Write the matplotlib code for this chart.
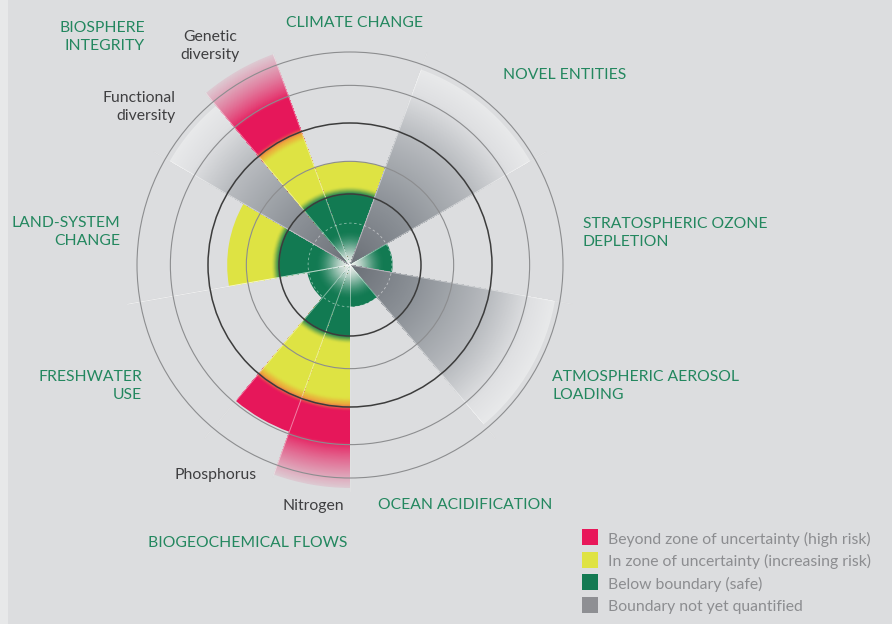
import numpy as np
import matplotlib.pyplot as plt
from matplotlib.patches import Wedge, Circle, Rectangle
from matplotlib.collections import PatchCollection
from matplotlib.colors import to_rgb

plt.rcParams['font.family'] = ['Lato', 'DejaVu Sans']

# sectors: angles in degrees (counterclockwise from east), value in boundary units (boundary = 1)
sector_names = ['Climate change', 'Novel entities', 'Stratospheric ozone depletion',
                'Atmospheric aerosol loading', 'Ocean acidification', 'Nitrogen',
                'Phosphorus', 'Freshwater use', 'Land-system change',
                'Functional diversity', 'Genetic diversity']
sector_start = [70, 30, -10, -50, -90, -110, -130, -170, 150, 130, 110]
sector_end = [110, 70, 30, -10, -50, -90, -110, -130, 190, 150, 130]
sector_value = [1.46, 2.93, 0.60, 2.93, 0.59, 3.14, 2.50, 0.61, 1.73, 2.93, 3.16]
sector_quantified = [True, False, True, False, True, True, True, True, True, False, True]
sector_fades = [False, False, False, False, False, True, False, False, False, False, True]

# reference rings (boundary units)
ring_radius = [1.0, 1.46, 2.0, 2.53, 3.0]
ring_colour = ['#3c3c3c', '#8c8d8f', '#3c3c3c', '#8c8d8f', '#8c8d8f']
ring_width = [1.1, 0.8, 1.1, 0.8, 0.8]
inner_ring = 0.59

legend_labels = ['Beyond zone of uncertainty (high risk)',
                 'In zone of uncertainty (increasing risk)',
                 'Below boundary (safe)',
                 'Boundary not yet quantified']
legend_colours = ['#e8175a', '#dfe343', '#137a52', '#8e8f93']

BG = '#dcdddf'
GREEN = to_rgb('#127a52')
YELLOW = to_rgb('#dee343')
ORANGE = to_rgb('#f09a38')
RED = to_rgb('#e6175a')
CENTRE = to_rgb('#e8ebe9')
grey_r = [0.0, 1.0, 2.0, 2.6, 2.93]
grey_c = [to_rgb(c) for c in ['#6a6f76', '#8d9298', '#b8bbbf', '#dfe0e2', '#e8e9ea']]

W, H = 892, 624
cx, cy = 350, H - 265
scale = 71.0


def mix(c1, c2, t):
    return tuple(a + (b - a) * t for a, b in zip(c1, c2))


def smooth(a, b, r):
    t = float(np.clip((r - a) / (b - a), 0, 1))
    return t * t * (3 - 2 * t)


def status_colour(r, end, fades):
    c = mix(CENTRE, GREEN, smooth(0.0, 0.5, r))
    c = mix(c, YELLOW, smooth(0.98, 1.12, r))
    c = mix(c, ORANGE, 0.7 * smooth(1.86, 1.97, r))
    c = mix(c, RED, smooth(1.95, 2.07, r))
    if fades:
        t = float(np.clip((r - 2.5) / (end - 2.5), 0, 1))
        c = mix(c, to_rgb(BG), 0.9 * t ** 0.8)
    return c


def grey_colour(r):
    return tuple(np.interp(r, grey_r, [g[i] for g in grey_c]) for i in range(3))


fig = plt.figure(figsize=(W / 100, H / 100), dpi=100, facecolor=BG)
ax = fig.add_axes([0, 0, 1, 1])
ax.set_xlim(0, W)
ax.set_ylim(0, H)
ax.set_aspect('equal')
ax.axis('off')
ax.axvspan(0, 8, color='#e7e8e9', lw=0)

# radial sector lines (behind)
angles = sorted(set(sector_start) | set(sector_end))
for a in angles:
    t = np.radians(a)
    ax.plot([cx, cx + 3.18 * scale * np.cos(t)], [cy, cy + 3.18 * scale * np.sin(t)],
            color='#c9cacc', lw=0.7, zorder=1)

for th1, th2, val, quant, fades in zip(sector_start, sector_end, sector_value,
                                         sector_quantified, sector_fades):
    radii = np.arange(val, 0, -0.012)
    patches, colours = [], []
    for r in radii:
        patches.append(Wedge((cx, cy), r * scale, th1, th2))
        colours.append(status_colour(r, val, fades) if quant else grey_colour(r))
    pc = PatchCollection(patches, facecolors=colours, edgecolors='none', linewidths=0, zorder=2)
    ax.add_collection(pc)

# separator lines over the wedges
for a in angles:
    t = np.radians(a)
    ax.plot([cx, cx + 3.18 * scale * np.cos(t)], [cy, cy + 3.18 * scale * np.sin(t)],
            color='white', lw=0.7, alpha=0.45, zorder=3)

for r, c, lw in zip(ring_radius, ring_colour, ring_width):
    ax.add_patch(Circle((cx, cy), r * scale, fill=False, ec=c, lw=lw, zorder=4))
ax.add_patch(Circle((cx, cy), inner_ring * scale, fill=False, ec='white', lw=0.6,
                    ls=(0, (3, 3)), alpha=0.5, zorder=4))

green_txt = '#23875f'
dark_txt = '#3f3f41'
fs = 11.3


def label(x, y, s, ha='left', colour=green_txt, size=fs):
    ax.text(x, H - y - 2, s, ha=ha, va='center', color=colour, fontsize=size,
            linespacing=1.45, zorder=5)


label(145, 35, 'BIOSPHERE\nINTEGRITY', ha='right')
label(355, 21, 'CLIMATE CHANGE', ha='center')
label(503, 73, 'NOVEL ENTITIES')
label(583, 231, 'STRATOSPHERIC OZONE\nDEPLETION')
label(120, 230, 'LAND-SYSTEM\nCHANGE', ha='right')
label(142, 384, 'FRESHWATER\nUSE', ha='right')
label(552, 384, 'ATMOSPHERIC AEROSOL\nLOADING')
label(378, 503, 'OCEAN ACIDIFICATION')
label(148, 541, 'BIOGEOCHEMICAL FLOWS')

label(210, 44, 'Genetic\ndiversity', ha='center', colour=dark_txt)
label(176, 105, 'Functional\ndiversity', ha='right', colour=dark_txt)
label(174, 473, 'Phosphorus', colour=dark_txt)
label(283, 504, 'Nitrogen', colour=dark_txt)

for i, (lab, col) in enumerate(zip(legend_labels, legend_colours)):
    y = 537 + i * 22.7
    ax.add_patch(Rectangle((582, H - y - 8), 16, 16, color=col, lw=0, zorder=5))
    label(608, y, lab, colour='#8c8d90')

fig.savefig('out.png', dpi=100, facecolor=BG)
